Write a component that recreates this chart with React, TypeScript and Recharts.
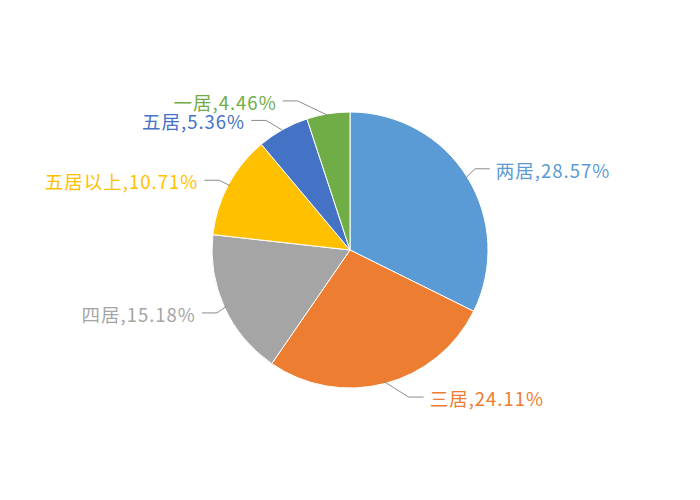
import React from 'react';
import { PieChart, Pie, Cell } from 'recharts';

// 户型占比
const roomTypes = ['两居', '三居', '四居', '五居以上', '五居', '一居'];
const shares = [28.57, 24.11, 15.18, 10.71, 5.36, 4.46];
const sliceColors = ['#5B9BD5', '#ED7D31', '#A5A5A5', '#FFC000', '#4472C4', '#70AD47'];

// small nudges for the label elbows, like the labels were dragged apart
const labelNudge = [
    [-6, 0],
    [20, -2],
    [7, -1],
    [5, 3],
    [-9, 5],
    [-28, 3],
];

const data = roomTypes.map((name, i) => ({ name, value: shares[i] }));

const RADIAN = Math.PI / 180;

const renderLabel = (props: any) => {
    const { cx, cy, midAngle, outerRadius, index, name, value } = props;
    const cos = Math.cos(-midAngle * RADIAN);
    const sin = Math.sin(-midAngle * RADIAN);
    const sx = cx + (outerRadius - 2) * cos;
    const sy = cy + (outerRadius - 2) * sin;
    const [nx, ny] = labelNudge[index] || [0, 0];
    const ex = cx + (outerRadius + 16) * cos + nx;
    const ey = cy + (outerRadius + 16) * sin + ny;
    const right = cos >= 0;
    const hx = ex + (right ? 15 : -15);
    const tx = hx + (right ? 6 : -6);

    return (
        <g>
            <path d={`M${sx},${sy}L${ex},${ey}L${hx},${ey}`} stroke="#8c8c8c" strokeWidth={1} fill="none" />
            <text
                x={tx}
                y={ey + 1}
                textAnchor={right ? 'start' : 'end'}
                dominantBaseline="central"
                fill={sliceColors[index]}
                fontSize={18.5}
                letterSpacing={1}
            >
                {`${name},${value.toFixed(2)}%`}
            </text>
        </g>
    );
};

export default function App() {
    return (
        <div style={{ width: 700, height: 500, margin: -8, background: '#fff', fontFamily: '"Noto Sans CJK SC", "Noto Sans", sans-serif' }}>
            <PieChart width={700} height={500} margin={{ top: 0, right: 0, bottom: 0, left: 0 }}>
                <Pie
                    data={data}
                    dataKey="value"
                    nameKey="name"
                    cx={350}
                    cy={250}
                    outerRadius={138}
                    startAngle={90}
                    endAngle={-270}
                    stroke="#fff"
                    strokeWidth={1}
                    label={renderLabel}
                    labelLine={false}
                    isAnimationActive={false}
                >
                    {data.map((d, i) => (
                        <Cell key={d.name} fill={sliceColors[i]} />
                    ))}
                </Pie>
            </PieChart>
        </div>
    );
}
